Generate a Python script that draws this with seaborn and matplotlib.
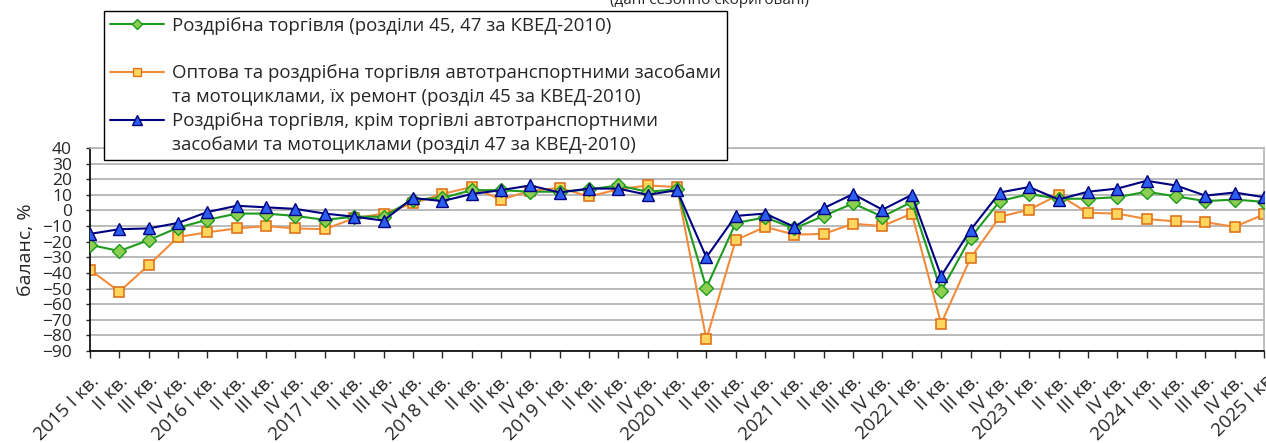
import pandas as pd
import matplotlib
matplotlib.use("Agg")
import matplotlib.pyplot as plt
from matplotlib.lines import Line2D
import seaborn as sns
import numpy as np

# quarters 2015 I .. 2025 I
years = list(range(2015, 2026))
quarters = ["I кв.", "II кв.", "III кв.", "IV кв."]
labels = []
for y in years:
    for q in quarters:
        if q == "I кв.":
            labels.append(f"{y} I кв.")
        else:
            labels.append(q)
labels = labels[:41]
labels[-1] = "2025 I кв"

# Роздрібна торгівля (розділи 45, 47)
retail_all = [-22, -26, -19, -11, -6, -2, -2, -3.5, -6, -4, -4, 7,
              8, 13, 13, 12, 12, 13.5, 16, 12, 13.5,
              -49.5, -8, -4.5, -11.5, -3.5, 4.5, -4, 5.5,
              -51.5, -17.5, 6, 10.5, 7.5, 7.5, 8.5, 12, 9, 6, 7, 5.5]
# Оптова та роздрібна торгівля автотранспортними засобами (розділ 45)
motor = [-38, -52, -35, -17, -14, -11.5, -10, -11.5, -12, -5, -2, 4.5,
         10.5, 15, 7, 12.5, 14.5, 9, 13.5, 16, 15,
         -82.5, -19, -10.5, -15.5, -15, -8.5, -10, -2,
         -72.5, -30.5, -4, 0.5, 10, -1.5, -2, -5.5, -7, -7.5, -10.5, -2.5]
# Роздрібна торгівля, крім торгівлі автотранспортними засобами (розділ 47)
retail_47 = [-15, -12, -11.5, -8, -1, 3, 2, 1, -2, -4, -6.5, 8,
             6, 10.5, 13, 16, 11.5, 14, 14, 10, 13,
             -30, -3.5, -2, -10.5, 1.5, 10.5, 0.5, 10,
             -42, -12.5, 11.5, 15, 7, 12, 14, 19, 16, 9.5, 11.5, 8.5]

names = ["Роздрібна торгівля (розділи 45, 47 за КВЕД-2010)",
         "Оптова та роздрібна торгівля автотранспортними засобами",
         "та мотоциклами, їх ремонт (розділ 45 за КВЕД-2010)",
         "Роздрібна торгівля, крім торгівлі автотранспортними",
         "засобами та мотоциклами (розділ 47 за КВЕД-2010)"]

df = pd.DataFrame({"x": np.arange(len(labels)), "all": retail_all,
                   "motor": motor, "r47": retail_47})

sns.set_style("white")
plt.rcParams["font.family"] = ["Open Sans", "DejaVu Sans"]

fig = plt.figure(figsize=(12.66, 4.43), dpi=100)
ax = fig.add_axes([90 / 1266, 1 - 351 / 443, 1174 / 1266, 203 / 443])

grid_col = "#b4b4b4"
for v in range(-90, 41, 10):
    ax.axhline(v, color=grid_col, lw=1.3, zorder=0)

green, green_f = "#1e9b1e", "#8ccf50"
orange, orange_f, orange_e = "#f28c3c", "#ffd65c", "#e0731e"
navy, navy_f = "#000080", "#2b5ff0"

sns.lineplot(data=df, x="x", y="all", ax=ax, color=green, lw=1.5,
             marker="D", markersize=7.5, markerfacecolor=green_f,
             markeredgecolor=green, markeredgewidth=1.0, zorder=3)
sns.lineplot(data=df, x="x", y="motor", ax=ax, color=orange, lw=1.5,
             marker="s", markersize=6.5, markerfacecolor=orange_f,
             markeredgecolor=orange_e, markeredgewidth=1.2, zorder=2)
sns.lineplot(data=df, x="x", y="r47", ax=ax, color=navy, lw=1.5,
             marker="^", markersize=8.5, markerfacecolor=navy_f,
             markeredgecolor=navy, markeredgewidth=1.0, zorder=4)

ax.set_xlim(0, 40)
ax.set_ylim(-90, 40)
ax.set_yticks(range(-90, 41, 10))
ax.set_xticks(df["x"])
ax.set_xticklabels(labels, rotation=45, ha="right", va="top",
                   rotation_mode="anchor", fontsize=13.5)
ax.tick_params(axis="y", labelsize=12.5, length=3, width=1, direction="out",
               left=True, pad=10)
ax.tick_params(axis="x", length=5, width=1, direction="out", bottom=True, pad=10)
ax.set_xlabel("")
ax.set_ylabel("баланс, %", fontsize=14, labelpad=5)

for s in ["left", "bottom"]:
    ax.spines[s].set_color("black")
    ax.spines[s].set_linewidth(1.2)
for s in ["top", "right"]:
    ax.spines[s].set_color(grid_col)
    ax.spines[s].set_linewidth(1.2)

# title, mostly cut off at the top
fig.text(0.56, 1 - 4 / 443, "(дані сезонно скориговані)", ha="center",
         va="baseline", fontsize=11)

blank = Line2D([], [], color="none")
h_all = Line2D([], [], color=green, lw=1.5, marker="D", markersize=5.5,
               markerfacecolor=green_f, markeredgecolor=green)
h_motor = Line2D([], [], color=orange, lw=1.5, marker="s", markersize=5.5,
                 markerfacecolor=orange_f, markeredgecolor=orange_e)
h_47 = Line2D([], [], color=navy, lw=1.5, marker="^", markersize=6.5,
              markerfacecolor=navy_f, markeredgecolor=navy)
leg = fig.legend([h_all, blank, h_motor, blank, h_47, blank],
                 [names[0], "", names[1], names[2], names[3], names[4]],
                 loc="upper left", bbox_to_anchor=(104 / 1266, 1 - 11 / 443),
                 bbox_transform=fig.transFigure, fontsize=13.4,
                 frameon=True, fancybox=False, framealpha=1, edgecolor="black",
                 handlelength=2.95, handletextpad=0.4, labelspacing=0.32,
                 borderpad=0.3, borderaxespad=0)
leg.get_frame().set_linewidth(1.0)
leg.set_zorder(10)

fig.savefig("out.png", dpi=100)
